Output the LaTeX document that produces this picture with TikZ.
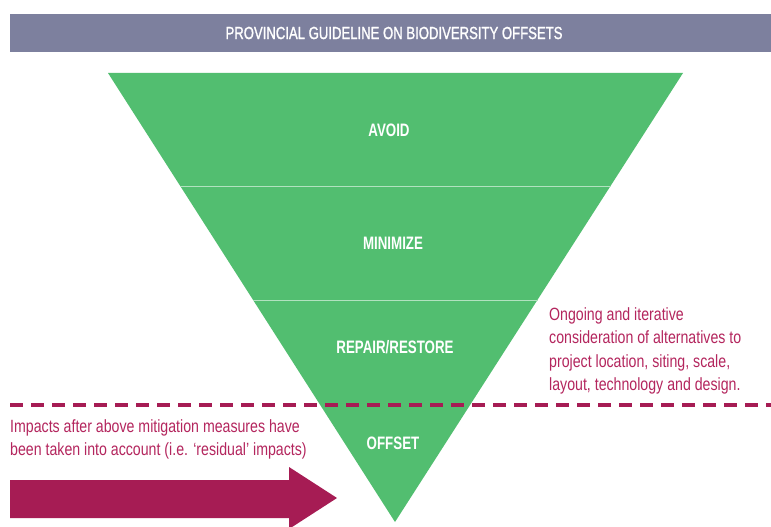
\documentclass[tikz,border=0pt]{standalone}
\usepackage{fontspec}
\setmainfont{Liberation Sans}[FakeStretch=0.8]
\newfontfamily\titlefont{Liberation Sans}[FakeStretch=0.75,FakeBold=1.2]
\newfontfamily\narrowbold{Liberation Sans}[FakeStretch=0.74,UprightFont=*-Bold]
\definecolor{bannerc}{RGB}{125,128,158}
\definecolor{greenc}{RGB}{82,190,112}
\definecolor{crim}{RGB}{166,28,84}
\definecolor{crimtext}{RGB}{180,38,94}
\begin{document}
\begin{tikzpicture}[x=1pt,y=-1pt,
  lvl/.style={text=white,font=\narrowbold\fontsize{18}{20}\selectfont,inner sep=0pt},
  note/.style={text=crimtext,font=\fontsize{17.7}{23.5}\selectfont,inner sep=0pt,align=left},
  divider/.style={draw=white!55!greenc,line width=0.8pt}]
\useasboundingbox (0,0) rectangle (771,527);
\fill[white] (0,0) rectangle (771,527);
% banner
\fill[bannerc] (10,14) rectangle (771,52);
\node[text=white,font=\titlefont\fontsize{17.5}{19}\selectfont,inner sep=0pt] (title) at (394,33) {PROVINCIAL GUIDELINE ON BIODIVERSITY OFFSETS};
% triangle
\fill[greenc] (108,73) -- (683,73) -- (395,522) -- cycle;
\draw[divider] (180.2,186) -- (610.6,186);
\draw[divider] (253.2,300) -- (537.7,300);
\node[lvl] (avoid) at (389,130) {AVOID};
\node[lvl] (minimize) at (393,243) {MINIMIZE};
\node[lvl] (repair) at (395,347) {REPAIR/RESTORE};
\node[lvl] (offset) at (393,443) {OFFSET};
% dashed line
\draw[crim,line width=3.5pt,dash pattern=on 13pt off 8pt] (10,405) -- (771,405);
% notes
\node[note,anchor=north west] (right) at (549,307) {Ongoing and iterative\\consideration of alternatives to\\project location, siting, scale,\\layout, technology and design.};
\node[note,anchor=north west] (left) at (10,419) {Impacts after above mitigation measures have\\been taken into account (i.e. `residual' impacts)};
% arrow
\fill[crim] (10,480) -- (289,480) -- (289,467) -- (337,498) -- (289,529) -- (289,518) -- (10,518) -- cycle;
\end{tikzpicture}
\end{document}
